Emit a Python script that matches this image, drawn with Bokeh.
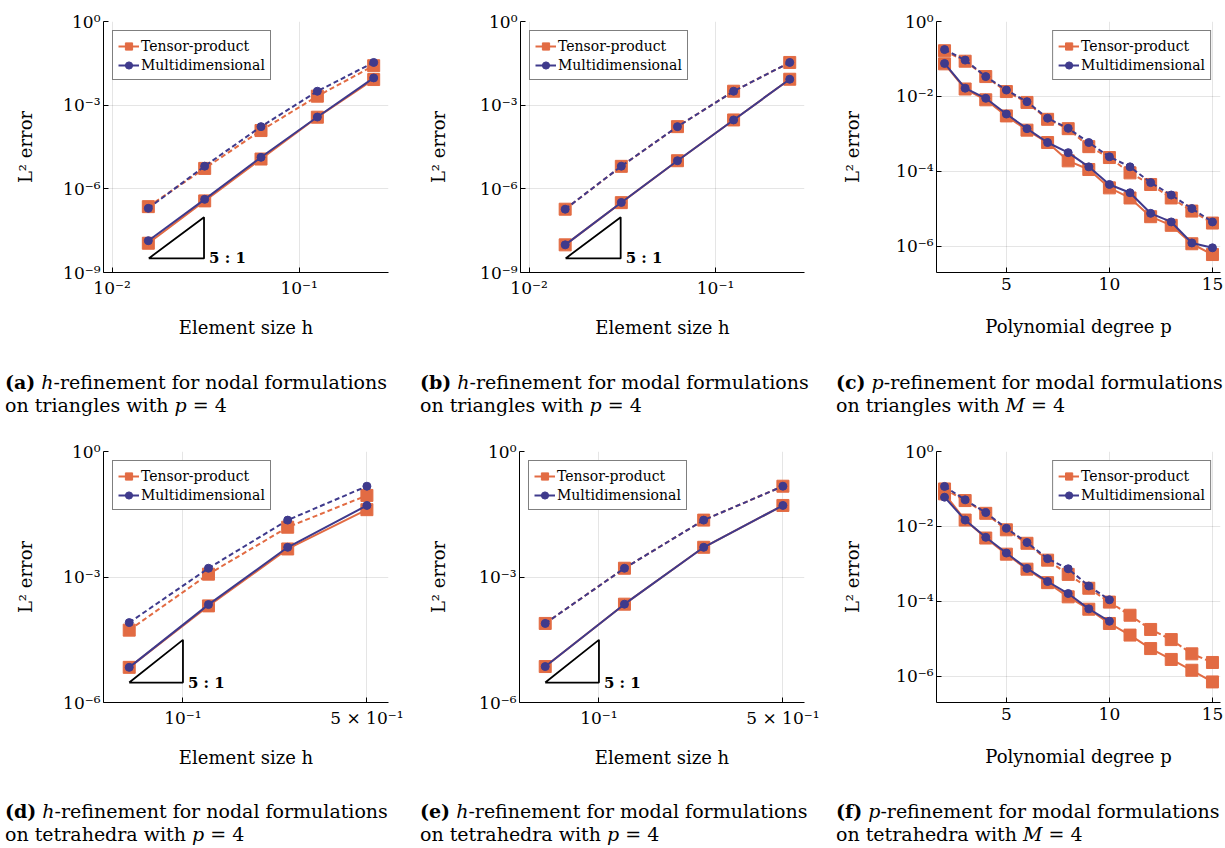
from bokeh.plotting import figure
from bokeh.models import (Range1d, FixedTicker, CustomJSTickFormatter, Legend,
                          LegendItem, Label, Div)
from bokeh.layouts import row, column
from bokeh.embed import file_html
from bokeh.resources import INLINE

ORANGE = "#E26B43"
PURPLE = "#3F3A8C"
FONT = "DejaVu Serif"

# ---------------- data ----------------
h_tri = [0.015625, 0.03125, 0.0625, 0.125, 0.25]
h_tet = [0.0625, 0.125, 0.25, 0.5]
p_deg = [2, 3, 4, 5, 6, 7, 8, 9, 10, 11, 12, 13, 14, 15]
p_deg_md_f = [2, 3, 4, 5, 6, 7, 8, 9, 10]

# (a) nodal, triangles
a_tp_dash = [2.3e-7, 5.4e-6, 1.23e-4, 2.1e-3, 2.6e-2]
a_md_dash = [2.0e-7, 6.5e-6, 1.70e-4, 3.16e-3, 3.4e-2]
a_tp_solid = [1.12e-8, 3.7e-7, 1.17e-5, 3.7e-4, 8.3e-3]
a_md_solid = [1.38e-8, 4.2e-7, 1.35e-5, 3.75e-4, 9.5e-3]
# (b) modal, triangles
b_tp_dash = [1.86e-7, 6.4e-6, 1.70e-4, 3.16e-3, 3.4e-2]
b_md_dash = [1.86e-7, 6.5e-6, 1.70e-4, 3.16e-3, 3.4e-2]
b_tp_solid = [9.8e-9, 3.2e-7, 1.02e-5, 2.95e-4, 8.5e-3]
b_md_solid = [9.8e-9, 3.25e-7, 1.02e-5, 2.95e-4, 8.5e-3]
# (c) p-refinement, triangles
c_tp_dash = [0.166, 0.0871, 0.0339, 0.0135, 6.92e-3, 2.45e-3, 1.38e-3, 4.57e-4,
             2.34e-4, 9.12e-5, 4.47e-5, 1.95e-5, 8.71e-6, 4.17e-6]
c_md_dash = [0.178, 0.0933, 0.0339, 0.0148, 7.24e-3, 2.63e-3, 1.41e-3, 5.89e-4,
             2.45e-4, 1.32e-4, 5.01e-5, 2.34e-5, 1.02e-5, 4.47e-6]
c_tp_solid = [0.0741, 0.0158, 8.13e-3, 3.02e-3, 1.26e-3, 5.89e-4, 1.91e-4, 1.12e-4,
              3.63e-5, 1.95e-5, 6.17e-6, 3.63e-6, 1.17e-6, 6.03e-7]
c_md_solid = [0.0759, 0.0166, 8.91e-3, 3.39e-3, 1.38e-3, 5.89e-4, 3.16e-4, 1.32e-4,
              4.47e-5, 2.69e-5, 7.59e-6, 4.47e-6, 1.23e-6, 9.12e-7]
# (d) nodal, tetrahedra
d_tp_dash = [5.37e-5, 1.17e-3, 0.0155, 0.0891]
d_md_dash = [8.13e-5, 1.62e-3, 0.0229, 0.148]
d_tp_solid = [6.92e-6, 2.04e-4, 4.68e-3, 0.0407]
d_md_solid = [6.92e-6, 2.19e-4, 5.13e-3, 0.0513]
# (e) modal, tetrahedra
e_tp_dash = [7.76e-5, 1.62e-3, 0.0229, 0.148]
e_md_dash = [7.76e-5, 1.62e-3, 0.0229, 0.148]
e_tp_solid = [7.24e-6, 2.24e-4, 5.13e-3, 0.0513]
e_md_solid = [7.24e-6, 2.24e-4, 5.13e-3, 0.0513]
# (f) p-refinement, tetrahedra
f_tp_dash = [0.1, 0.049, 0.0224, 8.13e-3, 3.55e-3, 1.26e-3, 5.25e-4, 2.24e-4,
             9.55e-5, 4.27e-5, 1.78e-5, 9.55e-6, 3.98e-6, 2.34e-6]
f_md_dash = [0.117, 0.0513, 0.0234, 8.91e-3, 3.72e-3, 1.38e-3, 7.41e-4, 2.57e-4, 1.10e-4]
f_tp_solid = [0.0741, 0.0148, 4.9e-3, 1.82e-3, 7.24e-4, 3.16e-4, 1.32e-4, 6.17e-5,
              2.57e-5, 1.26e-5, 5.5e-6, 2.82e-6, 1.45e-6, 7.08e-7]
f_md_solid = [0.0603, 0.0148, 5.13e-3, 1.95e-3, 7.59e-4, 3.39e-4, 1.62e-4, 6.31e-5, 2.95e-5]

# slope triangles (5:1): horizontal extent and base level
tri_tri_x = [0.0157, 0.031]
tri_tri_ybase = 3.2e-9
tri_tet_x = [0.0625, 0.1]
tri_tet_ybase = 3.0e-6
slope_order = 5

# axis ticks / labels
yticks_h_tri = [1e-9, 1e-6, 1e-3, 1.0]
xticks_h_tri = [0.01, 0.1]
yticks_h_tet = [1e-6, 1e-3, 1.0]
xticks_h_tet = [0.1, 0.5]
yticks_p = [1e-6, 1e-4, 1e-2, 1.0]
xticks_p = [5, 10, 15]

captions = [
    ("(a)", "<i>h</i>-refinement for nodal formulations", "on triangles with <i>p</i> = 4"),
    ("(b)", "<i>h</i>-refinement for modal formulations", "on triangles with <i>p</i> = 4"),
    ("(c)", "<i>p</i>-refinement for modal formulations", "on triangles with <i>M</i> = 4"),
    ("(d)", "<i>h</i>-refinement for nodal formulations", "on tetrahedra with <i>p</i> = 4"),
    ("(e)", "<i>h</i>-refinement for modal formulations", "on tetrahedra with <i>p</i> = 4"),
    ("(f)", "<i>p</i>-refinement for modal formulations", "on tetrahedra with <i>M</i> = 4"),
]

LOG_FMT = r"""
const sup = {"-":"\u207b","0":"\u2070","1":"\u00b9","2":"\u00b2","3":"\u00b3","4":"\u2074",
             "5":"\u2075","6":"\u2076","7":"\u2077","8":"\u2078","9":"\u2079"};
const e = Math.floor(Math.log10(tick) + 1e-9);
const m = Math.round(tick / Math.pow(10, e));
const s = String(e).split("").map(c => sup[c]).join("");
return (m === 1 ? "" : m + " \u00d7 ") + "10" + s;
"""


def panel(width, height, left, right, xlog, xr, yr, xticks, yticks, xlabel,
          x, tp_dash, md_dash, tp_solid, md_solid, x_md=None, legend_loc="top_left",
          tri=None, ylab_standoff=32, xlab_standoff=16):
    if x_md is None:
        x_md = x
    p = figure(width=width, height=height,
               x_axis_type="log" if xlog else "linear", y_axis_type="log",
               x_range=Range1d(*xr), y_range=Range1d(*yr),
               output_backend="svg", toolbar_location=None,
               min_border_left=left, min_border_right=right,
               min_border_top=21, min_border_bottom=93, margin=0)
    p.outline_line_color = None
    p.background_fill_color = "white"
    p.border_fill_color = "white"

    p.xaxis.ticker = FixedTicker(ticks=xticks)
    p.yaxis.ticker = FixedTicker(ticks=yticks)
    p.yaxis.formatter = CustomJSTickFormatter(code=LOG_FMT)
    if xlog:
        p.xaxis.formatter = CustomJSTickFormatter(code=LOG_FMT)
    for ax in (p.xaxis[0], p.yaxis[0]):
        ax.axis_line_color = "black"
        ax.axis_line_width = 1
        ax.major_tick_in = 5
        ax.major_tick_out = 0
        ax.minor_tick_in = 0
        ax.minor_tick_out = 0
        ax.major_tick_line_color = "black"
        ax.major_label_text_font = FONT
        ax.major_label_text_font_size = "17px"
        ax.major_label_text_color = "black"
        ax.axis_label_text_font = FONT
        ax.axis_label_text_font_size = "18px"
        ax.axis_label_text_font_style = "normal"
        ax.axis_label_text_color = "black"
    p.xaxis.axis_label = xlabel
    p.yaxis.axis_label = "L\u00b2 error"
    p.xaxis.major_label_standoff = 5
    p.xaxis.axis_label_standoff = xlab_standoff
    p.yaxis.major_label_standoff = 3
    p.yaxis.axis_label_standoff = ylab_standoff
    p.grid.grid_line_color = "black"
    p.grid.grid_line_alpha = 0.1
    p.grid.grid_line_width = 1

    # orange (tensor-product) first, purple (multidimensional) on top
    p.line(x, tp_dash, line_color=ORANGE, line_width=2, line_dash="5 3")
    p.scatter(x, tp_dash, marker="square", size=12, color=ORANGE)
    l_tp = p.line(x, tp_solid, line_color=ORANGE, line_width=2)
    s_tp = p.scatter(x, tp_solid, marker="square", size=12, color=ORANGE)
    p.line(x_md, md_dash, line_color=PURPLE, line_width=2, line_dash="5 3")
    p.scatter(x_md, md_dash, marker="circle", size=8, color=PURPLE)
    l_md = p.line(x_md, md_solid, line_color=PURPLE, line_width=2)
    s_md = p.scatter(x_md, md_solid, marker="circle", size=8, color=PURPLE)

    if tri is not None:
        (x0, x1), yb = tri
        ytop = yb * (x1 / x0) ** slope_order
        p.line([x0, x1, x1, x0], [yb, yb, ytop, yb], line_color="black", line_width=1.8)
        p.add_layout(Label(x=x1, y=yb, text="5 : 1", x_offset=5, y_offset=0,
                           text_baseline="alphabetic", text_font=FONT,
                           text_font_size="15px", text_font_style="bold",
                           text_color="black"))

    legend = Legend(items=[LegendItem(label="Tensor-product", renderers=[l_tp, s_tp]),
                           LegendItem(label="Multidimensional", renderers=[l_md, s_md])],
                    location=legend_loc)
    legend.label_text_font = FONT
    legend.label_text_font_size = "14px"
    legend.label_text_color = "black"
    legend.glyph_width = 21
    legend.glyph_height = 18
    legend.label_height = 19
    legend.label_standoff = 2
    legend.padding = 5
    legend.spacing = 0
    legend.margin = 9
    legend.border_line_color = "black"
    legend.border_line_width = 1
    legend.background_fill_color = "white"
    legend.background_fill_alpha = 1
    p.add_layout(legend)
    return p


def caption(idx, width, height, pad_left, pad_top):
    tag, l1, l2 = captions[idx]
    html = ('<div style="font-family:\'DejaVu Serif\',serif;font-size:19px;line-height:23px;'
            'color:#000;white-space:nowrap;padding-left:%dpx;padding-top:%dpx;">'
            '<b>%s</b> %s<br>%s</div>' % (pad_left, pad_top, tag, l1, l2))
    return Div(text=html, width=width, height=height, margin=0)


H = 365
fa = panel(410, H, 103, 22, True, (0.009, 0.30), (1e-9, 1.0), xticks_h_tri, yticks_h_tri,
           "Element size h", h_tri, a_tp_dash, a_md_dash, a_tp_solid, a_md_solid,
           tri=(tri_tri_x, tri_tri_ybase), ylab_standoff=24)
fb = panel(410, H, 110, 16, True, (0.009, 0.30), (1e-9, 1.0), xticks_h_tri, yticks_h_tri,
           "Element size h", h_tri, b_tp_dash, b_md_dash, b_tp_solid, b_md_solid,
           tri=(tri_tri_x, tri_tri_ybase), ylab_standoff=28)
fc = panel(405, H, 116, 5, False, (1.61, 15.39), (2.0e-7, 1.0), xticks_p, yticks_p,
           "Polynomial degree p", p_deg, c_tp_dash, c_md_dash, c_tp_solid, c_md_solid,
           legend_loc="top_right", ylab_standoff=30, xlab_standoff=23)
fd = panel(410, H, 103, 22, True, (0.0499, 0.604), (1e-6, 1.0), xticks_h_tet, yticks_h_tet,
           "Element size h", h_tet, d_tp_dash, d_md_dash, d_tp_solid, d_md_solid,
           tri=(tri_tet_x, tri_tet_ybase), ylab_standoff=24)
fe = panel(410, H, 109, 16, True, (0.0499, 0.604), (1e-6, 1.0), xticks_h_tet, yticks_h_tet,
           "Element size h", h_tet, e_tp_dash, e_md_dash, e_tp_solid, e_md_solid,
           tri=(tri_tet_x, tri_tet_ybase), ylab_standoff=27)
ff = panel(405, H, 116, 5, False, (1.61, 15.39), (2.0e-7, 1.0), xticks_p, yticks_p,
           "Polynomial degree p", p_deg, f_tp_dash, f_md_dash, f_tp_solid, f_md_solid,
           x_md=p_deg_md_f, legend_loc="top_right", ylab_standoff=30, xlab_standoff=23)

ca = caption(0, 410, 65, 5, 6)
cb = caption(1, 410, 65, 10, 6)
cc = caption(2, 405, 65, 16, 6)
cd = caption(3, 410, 53, 5, 5)
ce = caption(4, 410, 53, 10, 5)
cf = caption(5, 405, 53, 16, 5)

layout = column(row(fa, fb, fc, spacing=0),
                row(ca, cb, cc, spacing=0),
                row(fd, fe, ff, spacing=0),
                row(cd, ce, cf, spacing=0), spacing=0)

open("out.html", "w").write(file_html(layout, INLINE))
